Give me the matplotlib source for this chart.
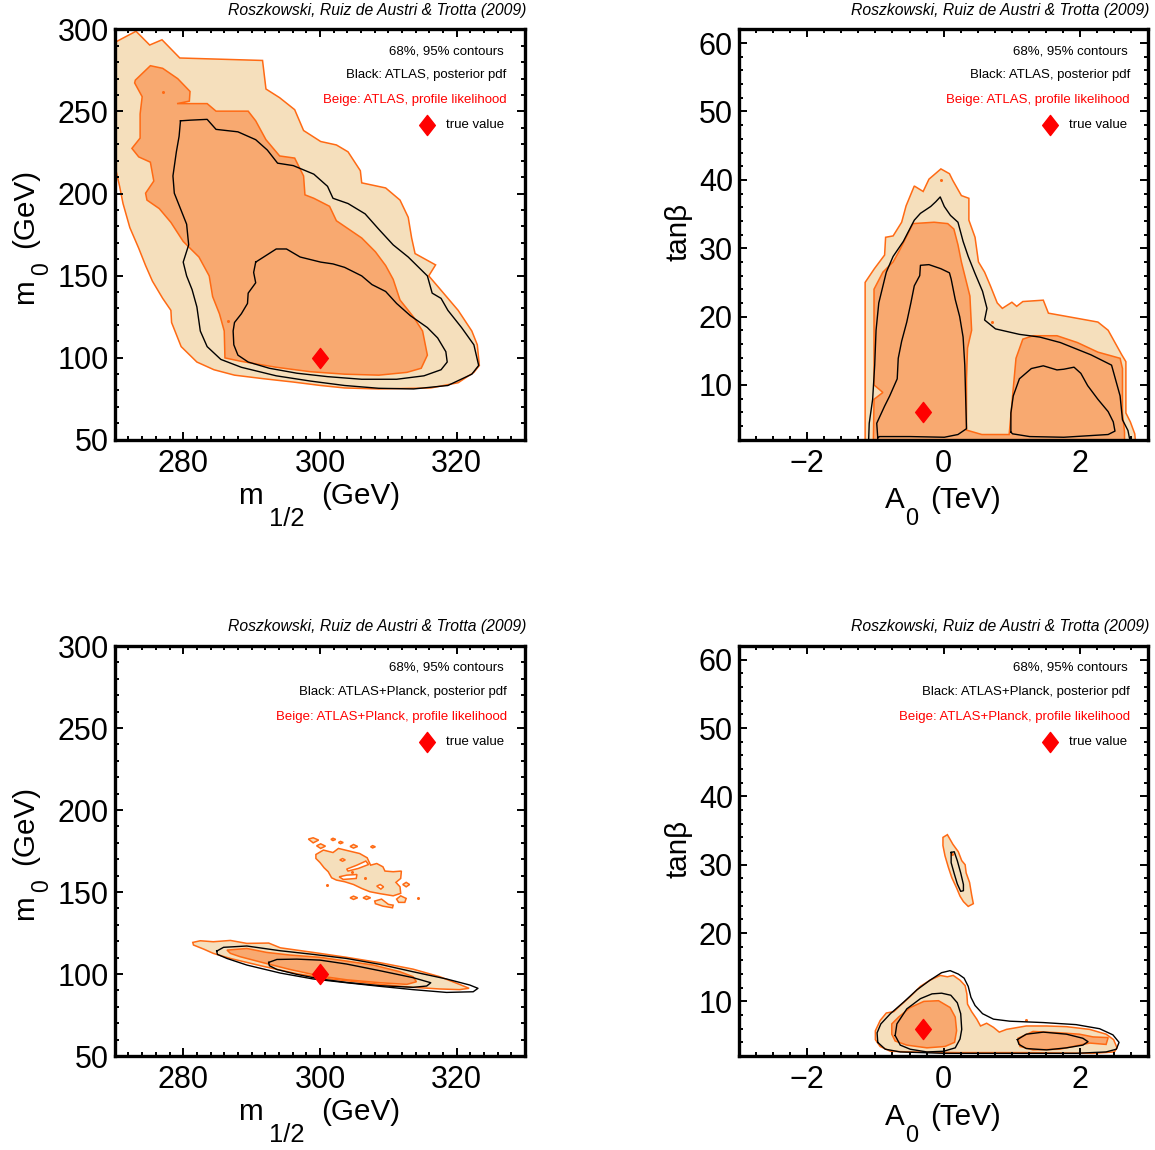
import matplotlib
matplotlib.use('Agg')
import matplotlib.pyplot as plt
from matplotlib.path import Path
from matplotlib.ticker import MultipleLocator
from matplotlib.transforms import ScaledTranslation
from matplotlib.font_manager import FontProperties

plt.rcParams['font.family'] = ['Liberation Sans', 'DejaVu Sans']

# ---------------- data ----------------
CREDIT = "Roszkowski, Ruiz de Austri & Trotta (2009)"
LEGEND_TOP = ["68%, 95% contours", "Black: ATLAS, posterior pdf",
              "Beige: ATLAS, profile likelihood", "true value"]
LEGEND_BOTTOM = ["68%, 95% contours", "Black: ATLAS+Planck, posterior pdf",
                 "Beige: ATLAS+Planck, profile likelihood", "true value"]
TRUE_M12, TRUE_M0 = 300.0, 100.0
TRUE_A0, TRUE_TANB = -0.3, 6.0

M12_TICKS = [280, 300, 320]
M0_TICKS = [50, 100, 150, 200, 250, 300]
A0_TICKS = [-2, 0, 2]
TANB_TICKS = [10, 20, 30, 40, 50, 60]

# Panel A: m1/2 vs m0, ATLAS
A_PL95 = [(269.5, 291.0), (273.1, 298.9), (275.1, 290.5), (276.9, 293.7), (279.5, 282.6),
          (283.5, 282.1), (291.6, 281.1), (292.1, 263.7), (294.1, 258.4), (296.3, 251.1),
          (297.6, 238.4), (300.1, 231.7), (302.4, 229.6), (304.1, 225.4), (305.9, 213.9),
          (306.1, 206.5), (309.6, 203.4), (311.7, 196.0), (312.9, 185.5), (313.4, 172.9),
          (313.9, 163.4), (316.9, 156.5), (315.9, 149.8), (317.2, 143.5), (320.2, 128.8),
          (322.2, 116.2), (323.0, 107.8), (323.3, 95.2), (322.5, 91.0), (320.2, 84.7),
          (316.2, 81.5), (308.6, 80.9), (303.6, 81.5), (300.1, 83.0), (296.1, 85.1),
          (291.6, 87.2), (287.5, 89.3), (284.5, 92.6), (282.0, 97.3), (279.7, 106.7),
          (278.3, 121.4), (278.2, 128.8), (277.0, 136.1), (275.5, 146.6), (274.5, 156.1),
          (273.5, 166.6), (272.2, 179.2), (271.2, 193.9), (270.7, 204.4), (270.1, 215.3),
          (269.5, 215.3)]
A_PL68 = [(273.0, 269.1), (275.2, 277.9), (277.0, 276.3), (279.2, 270.0), (281.0, 262.2),
          (280.9, 256.3), (279.1, 254.8), (283.5, 254.8), (284.8, 250.2), (289.5, 250.2),
          (290.6, 244.3), (292.1, 232.8), (294.1, 222.9), (296.3, 221.6), (297.6, 210.7),
          (297.8, 199.2), (299.1, 197.1), (301.4, 192.2), (302.4, 183.4), (306.1, 172.9),
          (308.1, 164.5), (309.6, 156.1), (310.7, 147.7), (311.7, 135.1), (313.7, 124.6),
          (315.0, 116.2), (315.7, 101.5), (314.8, 93.5), (312.7, 91.0), (308.6, 89.3),
          (303.6, 89.9), (298.6, 91.4), (293.6, 94.1), (288.5, 97.7), (286.1, 99.8),
          (286.0, 116.2), (285.3, 126.7), (284.3, 137.2), (283.8, 149.8), (282.3, 161.3),
          (280.0, 170.8), (278.2, 182.4), (276.5, 190.8), (274.7, 196.0), (274.5, 200.2),
          (275.7, 207.6), (275.2, 219.1), (273.5, 222.3), (272.5, 227.5), (273.7, 233.8),
          (273.7, 248.5), (274.0, 259.0), (272.9, 267.4)]
A_POST95 = [(279.6, 244.3), (281.0, 244.7), (283.5, 245.2), (284.8, 239.1), (288.0, 237.6),
            (290.6, 232.8), (292.3, 226.5), (293.8, 218.5), (296.1, 217.0), (299.1, 211.8),
            (301.1, 204.4), (301.9, 197.1), (304.1, 193.9), (306.6, 187.6), (308.6, 178.2),
            (310.7, 168.7), (312.9, 161.3), (315.7, 149.8), (316.4, 139.3), (317.7, 136.1),
            (318.7, 128.8), (320.7, 118.3), (322.5, 107.8), (323.2, 95.2), (322.2, 89.9),
            (318.7, 83.0), (313.7, 80.9), (308.6, 81.3), (303.6, 83.0), (298.6, 85.7),
            (293.6, 88.9), (288.5, 94.1), (285.5, 98.9), (283.5, 106.7), (282.5, 116.2),
            (282.0, 130.9), (281.3, 141.4), (280.5, 149.8), (280.0, 158.2), (280.8, 168.7),
            (280.5, 181.3), (279.5, 191.8), (278.7, 200.2), (278.5, 210.7), (279.0, 225.4),
            (279.4, 234.9)]
A_POST68 = [(290.6, 158.2), (293.6, 166.2), (295.1, 166.2), (297.1, 161.3), (300.1, 158.2),
            (301.9, 157.1), (303.6, 155.0), (306.1, 149.8), (307.6, 144.5), (309.6, 140.3),
            (311.2, 133.0), (313.2, 125.6), (315.7, 118.3), (317.2, 112.0), (318.4, 103.6),
            (318.6, 97.3), (317.7, 92.6), (315.2, 88.9), (311.2, 86.8), (306.1, 86.8),
            (301.1, 88.4), (296.6, 90.5), (292.6, 93.5), (289.5, 97.3), (288.0, 101.5),
            (287.4, 107.8), (287.3, 116.2), (287.5, 121.4), (288.5, 126.7), (289.4, 133.0),
            (289.5, 139.3), (290.6, 145.6), (290.3, 151.9)]
A_DOTS = [(277.0, 261.6), (286.6, 122.1)]

# Panel B: A0 vs tanb, ATLAS
B_PL95 = [(-1.15, 1.8), (-1.15, 25.0), (-1.015, 27.0), (-0.865, 29.0), (-0.85, 31.6),
          (-0.74, 31.8), (-0.615, 33.8), (-0.55, 36.2), (-0.43, 39.1), (-0.30, 38.3),
          (-0.215, 40.1), (-0.04, 41.6), (0.085, 40.9), (0.135, 39.9), (0.26, 37.7),
          (0.37, 37.3), (0.37, 34.1), (0.46, 31.6), (0.51, 28.0), (0.60, 26.5),
          (0.685, 24.5), (0.785, 22.0), (0.86, 21.2), (1.0, 22.1), (1.07, 21.5),
          (1.16, 22.2), (1.46, 22.4), (1.535, 20.5), (1.76, 20.1), (2.26, 19.2),
          (2.41, 18.0), (2.61, 14.4), (2.67, 13.4), (2.67, 5.9), (2.735, 4.6),
          (2.80, 2.85), (2.81, 1.8)]
B_PL68 = [(-1.03, 1.5), (-1.02, 7.9), (-0.89, 8.9), (-1.02, 10.0), (-1.02, 24.0),
          (-0.89, 26.5), (-0.74, 28.0), (-0.64, 29.8), (-0.55, 31.6), (-0.45, 33.6),
          (-0.14, 33.8), (0.06, 33.6), (0.15, 32.8), (0.21, 30.5), (0.26, 28.0),
          (0.31, 26.0), (0.385, 23.0), (0.41, 18.0), (0.35, 15.4), (0.335, 10.9),
          (0.335, 3.4), (0.56, 2.75), (0.96, 2.75), (1.01, 8.4), (1.06, 13.9),
          (1.16, 16.7), (1.31, 17.2), (1.66, 17.2), (1.96, 16.2), (2.26, 14.8),
          (2.585, 13.9), (2.62, 12.4), (2.62, 5.9), (2.65, 3.1), (2.65, 1.5)]
B_POST95 = [(-1.10, 1.6), (-1.09, 4.4), (-1.04, 7.9), (-1.01, 12.9), (-0.99, 18.0),
            (-0.95, 22.0), (-0.84, 26.5), (-0.74, 28.8), (-0.59, 31.0), (-0.43, 34.1),
            (-0.34, 35.1), (-0.19, 36.1), (-0.115, 36.8), (-0.05, 37.5), (0.01, 36.1),
            (0.10, 34.8), (0.21, 33.8), (0.285, 31.0), (0.36, 28.8), (0.46, 26.3),
            (0.57, 23.7), (0.635, 21.2), (0.60, 19.5), (0.76, 18.2), (1.11, 17.4),
            (1.41, 17.0), (1.71, 16.2), (2.16, 14.4), (2.46, 12.9), (2.585, 8.4),
            (2.62, 4.9), (2.70, 3.35), (2.735, 1.6)]
B_POST68_L = [(-0.965, 2.25), (-0.98, 4.4), (-0.865, 6.9), (-0.79, 8.4), (-0.68, 10.9),
              (-0.665, 13.9), (-0.615, 16.4), (-0.54, 19.2), (-0.48, 22.0), (-0.43, 24.5),
              (-0.35, 26.0), (-0.34, 27.5), (-0.215, 27.6), (-0.04, 27.0), (0.085, 26.4),
              (0.11, 25.5), (0.17, 22.5), (0.235, 20.0), (0.285, 17.0), (0.31, 12.9),
              (0.335, 3.6), (0.21, 2.75), (0.01, 2.35), (-0.49, 2.45), (-0.94, 2.45)]
B_POST68_R = [(0.985, 3.1), (0.985, 5.9), (1.02, 8.4), (1.11, 10.9), (1.285, 12.4),
              (1.46, 12.8), (1.66, 12.2), (1.76, 12.3), (1.91, 12.6), (2.01, 11.7),
              (2.11, 9.9), (2.26, 7.9), (2.41, 6.1), (2.485, 4.6), (2.51, 3.25),
              (2.41, 2.75), (1.76, 2.35), (1.26, 2.45), (1.01, 2.85)]
B_DOTS = [(-0.04, 40.0), (0.71, 19.2)]

# Panel C: m1/2 vs m0, ATLAS+Planck
C_PL95 = [(281.4, 119.3), (282.5, 120.3), (284.4, 119.7), (286.9, 120.5), (289.3, 118.7),
          (292.5, 118.9), (294.2, 116.0), (299.0, 113.2), (303.9, 110.2), (308.8, 106.9),
          (313.6, 103.0), (317.5, 98.4), (320.4, 93.7), (321.8, 91.3), (320.4, 90.5),
          (317.5, 90.9), (313.6, 91.9), (308.8, 93.7), (301.5, 97.0), (296.6, 100.2),
          (291.7, 104.7), (286.9, 109.5), (284.4, 112.6), (283.0, 115.2), (281.5, 117.7)]
C_PL68 = [(286.4, 114.6), (289.3, 115.6), (292.2, 113.2), (295.6, 111.6), (300.0, 110.2),
          (303.9, 107.9), (307.8, 105.5), (311.7, 101.4), (313.6, 98.4), (314.1, 95.3),
          (312.7, 93.7), (308.8, 94.7), (303.9, 96.5), (300.0, 98.8), (295.6, 102.8),
          (291.7, 106.9), (288.3, 110.6), (286.9, 112.6)]
C_POST95 = [(284.9, 114.0), (285.9, 116.3), (289.3, 117.1), (294.2, 114.2), (299.0, 112.0),
            (303.9, 109.5), (308.8, 105.9), (313.6, 101.4), (318.5, 97.0), (321.9, 93.3),
            (323.1, 91.3), (322.4, 89.2), (318.5, 88.8), (313.6, 90.5), (308.8, 92.5),
            (303.9, 94.7), (299.0, 97.0), (294.2, 100.6), (289.3, 105.5), (286.4, 109.5),
            (285.0, 112.0)]
C_POST68 = [(292.5, 107.1), (293.7, 108.9), (296.6, 109.1), (300.0, 108.5), (303.9, 106.1),
            (308.8, 102.0), (313.6, 97.8), (316.2, 94.7), (315.6, 92.7), (313.6, 91.9),
            (308.8, 92.9), (303.9, 94.9), (300.0, 97.0), (296.6, 99.8), (293.7, 102.8),
            (292.6, 105.1)]
C_ISLAND = [(299.4, 172.9), (300.5, 175.6), (301.9, 174.1), (302.7, 176.6), (303.9, 175.4),
            (305.8, 173.5), (306.9, 170.9), (307.4, 166.4), (308.3, 167.4), (309.2, 165.4),
            (309.5, 162.8), (310.7, 162.4), (311.9, 162.8), (311.8, 158.3), (311.1, 155.9),
            (311.7, 153.2), (311.8, 149.2), (310.7, 147.7), (308.8, 149.0), (307.3, 150.2),
            (306.1, 152.2), (304.9, 154.6), (303.6, 156.3), (302.4, 157.3), (301.7, 158.7),
            (301.2, 162.4), (300.6, 164.8), (300.0, 168.0), (299.4, 170.5)]
C_HOLES = [
    [(302.8, 159.3), (303.9, 160.3), (305.4, 160.7), (305.3, 158.3), (303.4, 157.7)],
    [(303.9, 164.0), (305.4, 166.4), (306.7, 168.9), (307.1, 166.8), (305.6, 164.4), (304.1, 162.8)],
    [(308.3, 153.6), (308.8, 154.6), (309.3, 153.2), (308.9, 151.8)],
    [(302.9, 169.6), (303.3, 170.4), (303.7, 169.6), (303.3, 168.8)],
]
C_ISLETS = [
    [(298.3, 182.3), (299.0, 183.1), (299.8, 181.7), (299.0, 180.0)],
    [(299.5, 178.2), (300.1, 179.4), (300.8, 178.0), (300.1, 176.6)],
    [(301.6, 182.1), (301.9, 182.8), (302.3, 182.1), (301.9, 181.4)],
    [(302.7, 180.2), (303.0, 180.9), (303.4, 180.2), (303.0, 179.5)],
    [(304.4, 177.8), (304.9, 179.0), (305.5, 177.8), (304.9, 176.8)],
    [(307.4, 177.6), (307.7, 178.3), (308.1, 177.6), (307.7, 176.9)],
    [(312.1, 154.6), (312.6, 155.9), (313.1, 154.6), (312.6, 153.2)],
    [(304.4, 146.5), (304.9, 147.5), (305.5, 146.5), (304.9, 145.5)],
    [(306.3, 146.5), (306.8, 147.5), (307.4, 146.5), (306.8, 145.5)],
    [(308.0, 144.5), (309.0, 145.7), (310.0, 142.5), (310.7, 142.0), (310.6, 140.4),
     (309.2, 141.4), (308.1, 142.9)],
    [(311.2, 145.7), (311.8, 147.7), (312.6, 146.1), (312.4, 143.7), (311.5, 143.7)],
]
C_DOTS = [(314.4, 146.5), (301.0, 154.2), (304.7, 162.2), (306.6, 158.5)]

# Panel D: A0 vs tanb, ATLAS+Planck
D_PL95 = [(-1.0, 5.7), (-0.93, 7.2), (-0.84, 8.3), (-0.73, 8.5), (-0.635, 9.4),
          (-0.49, 10.7), (-0.34, 12.2), (-0.20, 13.1), (-0.05, 13.8), (0.055, 13.6),
          (0.14, 13.8), (0.24, 13.1), (0.315, 12.3), (0.34, 11.1), (0.35, 9.6),
          (0.41, 8.5), (0.485, 7.4), (0.54, 6.4), (0.63, 6.8), (0.73, 6.2),
          (0.815, 5.5), (0.92, 5.9), (1.21, 6.4), (1.51, 6.4), (1.80, 6.3),
          (2.14, 5.9), (2.38, 5.2), (2.49, 4.4), (2.54, 3.2), (2.50, 2.6),
          (2.19, 2.4), (1.21, 2.5), (0.24, 2.5), (-0.49, 2.6), (-0.78, 2.7),
          (-0.93, 3.4), (-1.0, 4.4)]
D_PL95_UP = [(-0.01, 34.0), (0.055, 34.4), (0.135, 33.0), (0.215, 31.9), (0.265, 30.6),
             (0.315, 30.0), (0.33, 28.8), (0.38, 27.4), (0.41, 25.6), (0.435, 24.3),
             (0.36, 23.9), (0.29, 24.6), (0.24, 25.4), (0.19, 26.6), (0.12, 28.1),
             (0.07, 29.6), (0.02, 31.3), (-0.01, 32.8)]
D_PL68_L = [(-0.76, 5.2), (-0.76, 6.7), (-0.66, 7.7), (-0.49, 9.1), (-0.29, 10.0),
            (-0.075, 10.1), (0.095, 9.1), (0.17, 7.7), (0.19, 5.7), (0.16, 4.0),
            (0.02, 3.4), (-0.245, 3.2), (-0.54, 3.6), (-0.71, 4.2)]
D_PL68_R = [(1.09, 4.6), (1.31, 5.6), (1.70, 5.4), (1.99, 5.2), (2.19, 4.8),
            (2.41, 4.7), (2.38, 3.7), (2.14, 3.9), (1.94, 3.5), (1.70, 3.0),
            (1.31, 2.9), (1.12, 3.4)]
D_POST95 = [(-0.965, 4.0), (-0.975, 5.4), (-0.92, 6.7), (-0.78, 8.2), (-0.585, 9.9),
            (-0.39, 11.7), (-0.20, 13.1), (-0.03, 14.2), (0.095, 14.5), (0.215, 14.0),
            (0.30, 13.4), (0.36, 12.2), (0.40, 10.6), (0.46, 9.4), (0.57, 8.2),
            (0.73, 7.4), (0.97, 7.1), (1.46, 6.9), (1.94, 6.6), (2.285, 6.0),
            (2.48, 5.1), (2.57, 4.0), (2.53, 3.0), (2.38, 2.6), (1.94, 2.4),
            (0.97, 2.4), (0.0, 2.4), (-0.635, 2.6), (-0.855, 3.0)]
D_POST95_UP = [(0.11, 31.8), (0.155, 31.9), (0.20, 30.6), (0.25, 28.8), (0.29, 27.1),
               (0.29, 26.2), (0.25, 26.1), (0.20, 27.2), (0.155, 28.7), (0.11, 30.3)]
D_POST68_L = [(-0.71, 5.0), (-0.685, 6.7), (-0.54, 8.9), (-0.34, 10.4), (-0.17, 11.1),
              (-0.03, 11.2), (0.105, 10.9), (0.20, 9.8), (0.25, 8.2), (0.265, 5.9),
              (0.24, 4.5), (0.17, 3.2), (0.0, 2.7), (-0.245, 2.6), (-0.49, 3.0),
              (-0.635, 3.6)]
D_POST68_R = [(1.08, 4.4), (1.21, 5.2), (1.46, 5.5), (1.80, 5.2), (2.04, 4.6),
              (2.115, 4.1), (2.04, 3.6), (1.80, 3.2), (1.51, 2.9), (1.21, 3.1),
              (1.105, 3.7)]
D_DOTS = [(1.205, 7.3), (0.12, 31.5)]

# axis label pieces: (text, size in pt, baseline drop in px, gap before in px)
LABEL_M12 = [("m", 21.3, 0, 0), ("1/2", 18.4, 22, 6.5), ("(GeV)", 21.3, 0, 16)]
LABEL_M0 = [("m", 21.3, 0, 0), ("0", 16.5, 15, 4), ("(GeV)", 21.3, 0, 14)]
LABEL_A0 = [("A", 21.3, 0, 0), ("0", 16.8, 17, 1), ("(TeV)", 21.3, 0, 12)]
LABEL_TANB = [("tanβ", 21.3, 0, 0)]

# ---------------- styles ----------------
LIGHT = '#F5DFBC'
DARK = '#F8A970'
EDGE = '#FF6A14'
RED = '#FF0000'
DIAMOND = Path([(0, 1), (0.78, 0), (0, -1), (-0.78, 0), (0, 1)],
               [Path.MOVETO, Path.LINETO, Path.LINETO, Path.LINETO, Path.CLOSEPOLY])

fig = plt.figure(figsize=(11.55, 11.5), dpi=100)
renderer = fig.canvas.get_renderer()
LW, RW = 0.0994, 0.3553
RL, RRW = 0.6397, 0.3546
TB, BB, H = 0.6177, 0.0817, 0.3567
axA = fig.add_axes([LW, TB, RW, H])
axB = fig.add_axes([RL, TB, RRW, H])
axC = fig.add_axes([LW, BB, RW, 0.3565])
axD = fig.add_axes([RL, BB, RRW, 0.3565])


def xy(pts):
    return [p[0] for p in pts], [p[1] for p in pts]


def region(ax, pts, fc, z):
    x, y = xy(pts)
    ax.fill(x, y, facecolor=fc, edgecolor=EDGE, linewidth=1.1, zorder=z)


def line(ax, pts):
    x, y = xy(pts + pts[:1])
    ax.plot(x, y, color='black', linewidth=1.0, zorder=5)


def dots(ax, pts):
    x, y = xy(pts)
    ax.plot(x, y, 'o', color=EDGE, ms=2.2, mew=0, zorder=4)


def text_width(s, size):
    fp = FontProperties(family=['Liberation Sans'], size=size)
    w, h, d = renderer.get_text_width_height_descent(s, fp, ismath=False)
    return w


def compound_label(ax, x, y, parts, vertical=False):
    widths = [text_width(p[0], p[1]) for p in parts]
    total = sum(widths) + sum(p[3] for p in parts)
    pos = -total / 2.0
    for (s, size, drop, gap), w in zip(parts, widths):
        pos += gap
        if vertical:
            dx, dy = drop, pos
        else:
            dx, dy = pos, -drop
        tr = ax.transAxes + ScaledTranslation(dx / fig.dpi, dy / fig.dpi, fig.dpi_scale_trans)
        ax.text(x, y, s, transform=tr, fontsize=size, ha='left', va='baseline',
                rotation=90 if vertical else 0, rotation_mode='anchor', clip_on=False)
        pos += w


def style(ax, kind, legend):
    if kind == 'm':
        ax.set_xlim(270, 330)
        ax.set_ylim(50, 300)
        ax.set_xticks(M12_TICKS)
        ax.set_yticks(M0_TICKS)
        ax.xaxis.set_minor_locator(MultipleLocator(2))
        ax.yaxis.set_minor_locator(MultipleLocator(10))
        compound_label(ax, 0.4975, -0.157, LABEL_M12)
        compound_label(ax, -0.198, 0.495, LABEL_M0, vertical=True)
        ax.plot([TRUE_M12], [TRUE_M0], marker=DIAMOND, ms=14.5, color=RED,
                linestyle='none', zorder=6)
    else:
        ax.set_xlim(-3, 3)
        ax.set_ylim(2, 62)
        ax.set_xticks(A0_TICKS)
        ax.set_yticks(TANB_TICKS)
        ax.xaxis.set_minor_locator(MultipleLocator(0.25))
        ax.yaxis.set_minor_locator(MultipleLocator(2))
        compound_label(ax, 0.4985, -0.167, LABEL_A0)
        compound_label(ax, -0.1275, 0.506, LABEL_TANB, vertical=True)
        ax.plot([TRUE_A0], [TRUE_TANB], marker=DIAMOND, ms=14.5, color=RED,
                linestyle='none', zorder=6)
    ax.tick_params(which='both', direction='in', top=True, right=True, width=1.4)
    ax.tick_params(which='major', length=6, labelsize=22)
    ax.tick_params(axis='x', which='major', pad=6.5)
    ax.tick_params(axis='y', which='major', pad=4.3)
    ax.tick_params(which='minor', length=3)
    for s in ax.spines.values():
        s.set_linewidth(2.4)
    ax.text(1.003, 1.047, CREDIT, transform=ax.transAxes, ha='right', va='center',
            fontsize=11.3, style='italic')
    ax.text(0.949, 0.947, legend[0], transform=ax.transAxes, ha='right', va='center',
            fontsize=9.5, color='black')
    ax.text(0.955, 0.889, legend[1], transform=ax.transAxes, ha='right', va='center',
            fontsize=9.5, color='black')
    ax.text(0.955, 0.828, legend[2], transform=ax.transAxes, ha='right', va='center',
            fontsize=9.5, color=RED)
    ax.text(0.949, 0.767, legend[3], transform=ax.transAxes, ha='right', va='center',
            fontsize=9.5, color='black')
    ax.plot([0.76], [0.767], marker=DIAMOND, ms=14.5, color=RED, linestyle='none',
            transform=ax.transAxes, zorder=6)


# Panel A
region(axA, A_PL95, LIGHT, 1)
region(axA, A_PL68, DARK, 2)
line(axA, A_POST95)
line(axA, A_POST68)
dots(axA, A_DOTS)
style(axA, 'm', LEGEND_TOP)

# Panel B
region(axB, B_PL95, LIGHT, 1)
region(axB, B_PL68, DARK, 2)
line(axB, B_POST95)
line(axB, B_POST68_L)
line(axB, B_POST68_R)
dots(axB, B_DOTS)
style(axB, 'a', LEGEND_TOP)

# Panel C
region(axC, C_PL95, LIGHT, 1)
region(axC, C_PL68, DARK, 2)
region(axC, C_ISLAND, LIGHT, 1)
for h in C_HOLES:
    region(axC, h, 'white', 2)
for isl in C_ISLETS:
    region(axC, isl, LIGHT, 1)
line(axC, C_POST95)
line(axC, C_POST68)
dots(axC, C_DOTS)
style(axC, 'm', LEGEND_BOTTOM)

# Panel D
region(axD, D_PL95, LIGHT, 1)
region(axD, D_PL95_UP, LIGHT, 1)
region(axD, D_PL68_L, DARK, 2)
region(axD, D_PL68_R, DARK, 2)
line(axD, D_POST95)
line(axD, D_POST95_UP)
line(axD, D_POST68_L)
line(axD, D_POST68_R)
dots(axD, D_DOTS)
style(axD, 'a', LEGEND_BOTTOM)

fig.savefig('out.png', dpi=100)
